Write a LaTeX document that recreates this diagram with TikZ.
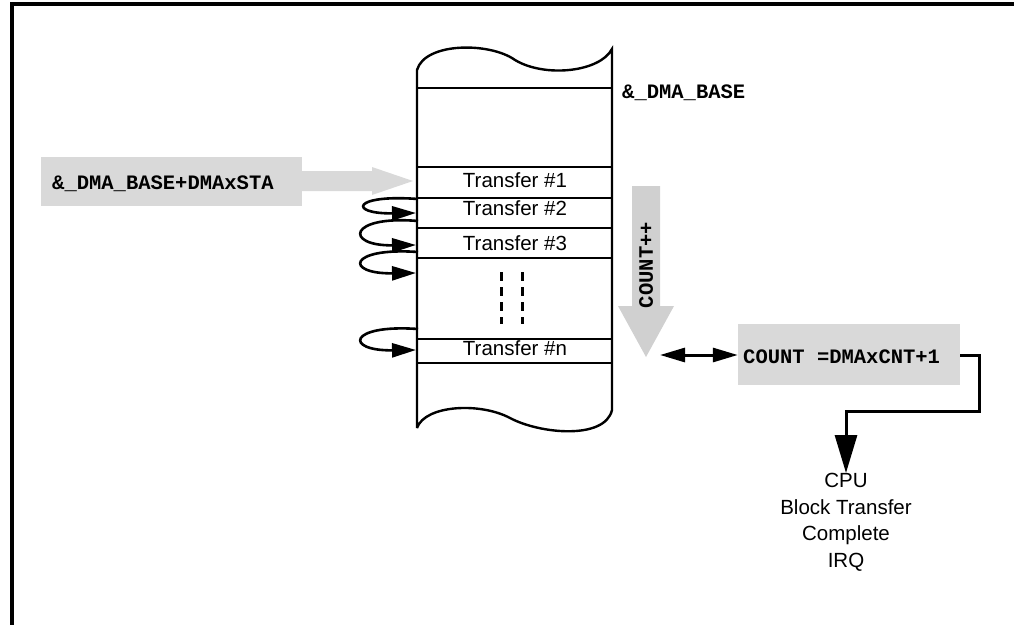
\documentclass[tikz,border=0pt]{standalone}
\usepackage{fontspec}
\setmainfont{Liberation Sans}
\newfontfamily\monofont{Liberation Mono}
\usetikzlibrary{arrows.meta}
\definecolor{boxgray}{RGB}{217,217,217}
\definecolor{arrgray}{RGB}{208,208,208}
\begin{document}
\begin{tikzpicture}[x=1pt,y=-1pt,
  memline/.style={line width=2.4pt},
  looparrow/.style={line width=2.6pt,-{Triangle[length=24pt,width=14pt]}},
  sanslabel/.style={font=\fontsize{20.5}{24}\selectfont,inner sep=0pt},
  monolabel/.style={font=\fontsize{20.5}{24}\selectfont\monofont\bfseries,inner sep=0pt},
  graybox/.style={fill=boxgray,draw=none,inner sep=0pt},
  conn/.style={line width=3pt}]
\useasboundingbox (0,0) rectangle (1014,624);
% frame
\draw[line width=3.2pt] (12,630) -- (12,4) -- (1020,4);
% memory column
\draw[memline] (417,428) -- (417,70)
  .. controls (425,42) and (490,42) .. (515,60)
  .. controls (545,78) and (600,72) .. (612,49) -- (612,410)
  .. controls (605,440) and (540,434) .. (510,418)
  .. controls (480,402) and (425,405) .. (417,428);
\foreach \yy in {88,167,198,228,258,339,363}
  \draw[memline] (417,\yy) -- (612,\yy);
% dashed continuation marks
\draw[line width=3pt,dash pattern=on 9pt off 6pt] (501,272) -- (501,324);
\draw[line width=3pt,dash pattern=on 9pt off 6pt] (522,272) -- (522,324);
% transfer labels
\node[sanslabel,anchor=base] (t1) at (515,187) {Transfer \#1};
\node[sanslabel,anchor=base] (t2) at (515,215) {Transfer \#2};
\node[sanslabel,anchor=base] (t3) at (515,250) {Transfer \#3};
\node[sanslabel,anchor=base] (tn) at (515,355) {Transfer \#n};
\node[monolabel,anchor=base west] (base) at (622,98) {\&\_DMA\_BASE};
% loop arrows
\coordinate (l1s) at (418,199); \coordinate (l1e) at (416,213);
\coordinate (l2s) at (418,221); \coordinate (l2e) at (416,245);
\coordinate (l3s) at (418,252); \coordinate (l3e) at (416,273);
\coordinate (lns) at (418,329); \coordinate (lne) at (416,350);
\draw[looparrow] (l1s) .. controls (352,194) and (348,214) .. (l1e);
\draw[looparrow] (l2s) .. controls (348,215) and (344,246) .. (l2e);
\draw[looparrow] (l3s) .. controls (348,247) and (344,274) .. (l3e);
\draw[looparrow] (lns) .. controls (348,324) and (344,351) .. (lne);
% start address box with gray arrow
\node[graybox,minimum width=261pt,minimum height=49pt] (sta) at (171.5,181.5) {};
\fill[boxgray] (sta.east |- 0,171) -- (372,171) -- (372,167) -- (413,181) -- (372,195) -- (372,191) -- (sta.east |- 0,191) -- cycle;
\coordinate (statip) at (413,181);
\node[monolabel,anchor=base west] (statext) at (52,189) {\&\_DMA\_BASE+DMAxSTA};
% COUNT++ arrow
\fill[arrgray] (632,186) -- (660,186) -- (660,306) -- (674,306) -- (646,357) -- (618,306) -- (632,306) -- cycle;
\node[monolabel,rotate=90] (cpp) at (646,265) {COUNT++};
% count box
\node[graybox,minimum width=222pt,minimum height=61pt] (cnt) at (849,354.5) {};
\node[monolabel,anchor=base west] (cnttext) at (743,363) {COUNT =DMAxCNT+1};
\coordinate (dl) at (660,355);
\draw[conn,{Triangle[length=25pt,width=14pt]}-{Triangle[length=25pt,width=14pt]}] (dl) -- (cnt.west |- dl);
% to CPU
\node[sanslabel,align=center,anchor=north,font=\fontsize{20.5}{26.7}\selectfont] (cpu) at (846,473) {CPU\\Block Transfer\\Complete\\IRQ};
\draw[conn,-{Triangle[length=38pt,width=22pt]}] (cnt.east |- 0,355) -- (979,355) -- (979,411) -- (846,411) -- (cpu.north);
\end{tikzpicture}
\end{document}
